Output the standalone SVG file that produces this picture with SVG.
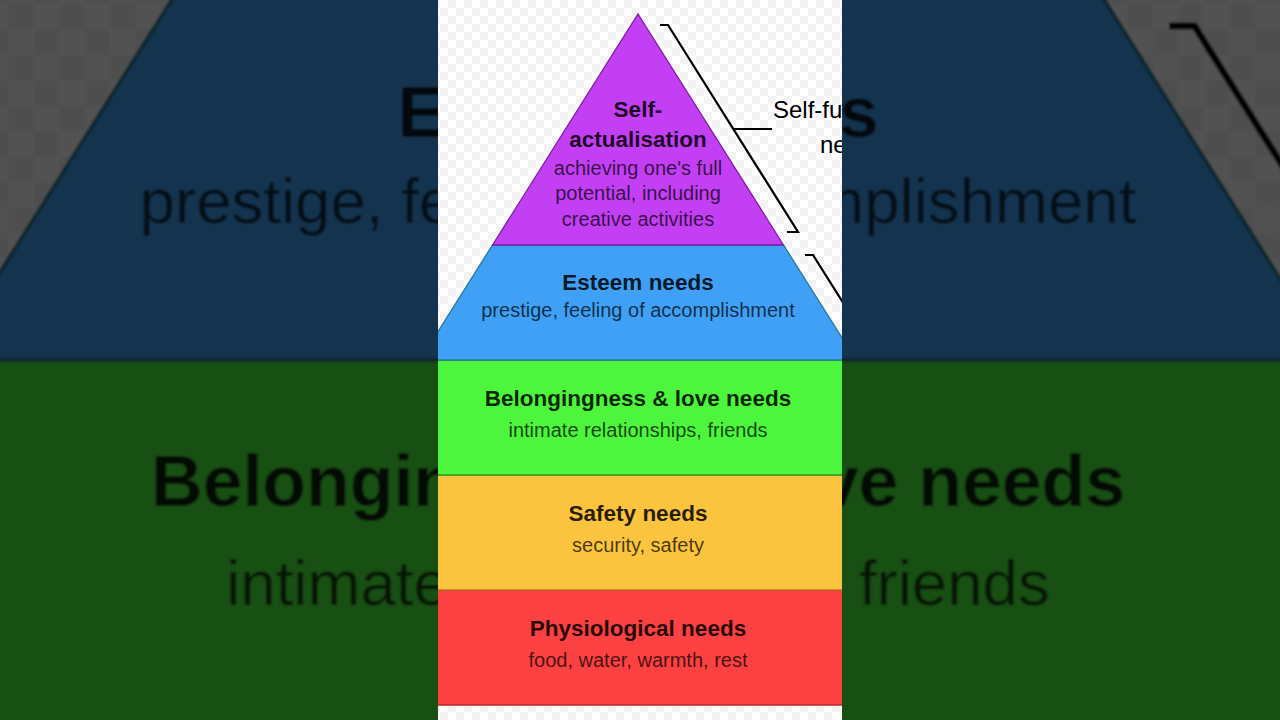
<svg xmlns="http://www.w3.org/2000/svg" xmlns:xlink="http://www.w3.org/1999/xlink" width="1280" height="720" viewBox="0 0 1280 720">
  <style>
    .t { font-family: "Liberation Sans", Arial, sans-serif; font-weight: 700; font-size: 22.5px; text-anchor: middle; fill: #000; fill-opacity: 0.86; }
    .s { font-family: "Liberation Sans", Arial, sans-serif; font-weight: 400; font-size: 20px; text-anchor: middle; fill: #000; fill-opacity: 0.72; }
    .lbl { font-family: "Liberation Sans", Arial, sans-serif; font-weight: 400; font-size: 24px; fill: #000; }
    .band { stroke-width: 1.3; stroke-linejoin: miter; }
    .br { fill: none; stroke: #000; stroke-width: 2.2; stroke-linejoin: miter; }
  </style>
  <defs>
    <pattern id="checker" width="16" height="16" patternUnits="userSpaceOnUse">
      <rect width="16" height="16" fill="#ffffff"/>
      <rect width="8" height="8" fill="#f3f3f3"/>
      <rect x="8" y="8" width="8" height="8" fill="#f3f3f3"/>
    </pattern>
    <clipPath id="panelClip">
      <rect x="438" y="0" width="404" height="720"/>
    </clipPath>
    <filter id="soft" x="-5%" y="-5%" width="110%" height="110%">
      <feGaussianBlur stdDeviation="1.3"/>
    </filter>
  </defs>

  <!-- blurred, darkened enlargement behind the panel -->
  <g id="backdrop">
    <g filter="url(#soft)">
      <use href="#diagram" xlink:href="#diagram" transform="translate(638 360) scale(3.18) translate(-638 -360)"/>
    </g>
    <rect x="0" y="0" width="1280" height="720" fill="#000" opacity="0.68"/>
  </g>

  <!-- central panel -->
  <g id="panel" clip-path="url(#panelClip)">
    <g id="diagram">
      <rect x="380" y="-20" width="580" height="760" fill="url(#checker)"/>

      <g id="physiological">
        <polygon class="band" points="275.1,590 1000.9,590 1073.3,705 202.7,705" fill="#fb4141" stroke="#b82828"/>
        <text class="t" x="638" y="636">Physiological needs</text>
        <text class="s" x="638" y="667">food, water, warmth, rest</text>
      </g>

      <g id="safety">
        <polygon class="band" points="347.6,475 928.4,475 1000.9,590 275.1,590" fill="#fbc43f" stroke="#c0701e"/>
        <text class="t" x="638" y="521">Safety needs</text>
        <text class="s" x="638" y="552">security, safety</text>
      </g>

      <g id="belonging">
        <polygon class="band" points="420,360 856,360 928.4,475 347.6,475" fill="#4df53d" stroke="#2e9e24"/>
        <text class="t" x="638" y="406">Belongingness &amp; love needs</text>
        <text class="s" x="638" y="437">intimate relationships, friends</text>
      </g>

      <g id="esteem">
        <polygon class="band" points="492.5,245 783.5,245 856,360 420,360" fill="#3fa0f6" stroke="#2a7a9a"/>
        <text class="t" x="638" y="290">Esteem needs</text>
        <text class="s" x="638" y="317">prestige, feeling of accomplishment</text>
      </g>

      <g id="self-actualisation">
        <polygon class="band" points="638,14 783.5,245 492.5,245" fill="#c33ff3" stroke="#7a1e9e"/>
        <text class="t" x="638" y="117">Self-</text>
        <text class="t" x="638" y="147">actualisation</text>
        <text class="s" x="638" y="175">achieving one's full</text>
        <text class="s" x="638" y="200">potential, including</text>
        <text class="s" x="638" y="226">creative activities</text>
      </g>

      <g id="connectors">
        <polyline class="br" points="660,25 668,25 798,232 787,232"/>
        <line class="br" x1="733" y1="129" x2="772" y2="129"/>
        <polyline class="br" points="805,255 813,255 900,393"/>
      </g>

      <g id="self-fulfilment-label">
        <text class="lbl" x="773" y="118">Self-fu</text>
        <text class="lbl" x="820" y="153">ne</text>
      </g>
    </g>
  </g>
</svg>
